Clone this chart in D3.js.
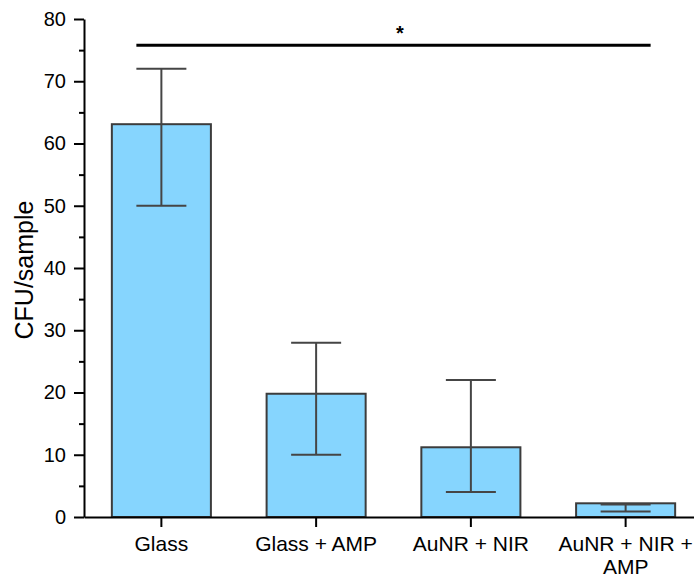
<!DOCTYPE html>
<html>
<head>
<meta charset="utf-8">
<script src="https://cdn.jsdelivr.net/npm/d3@7"></script>
<style>
body{margin:0;background:#fff;}
text{font-family:"Liberation Sans",Arial,sans-serif;}
</style>
</head>
<body>
<svg id="svg" width="694" height="577"></svg>
<script>
let categories=["Glass","Glass + AMP","AuNR + NIR","AuNR + NIR + AMP"];
let labelLines=[["Glass"],["Glass + AMP"],["AuNR + NIR"],["AuNR + NIR +","AMP"]];
let means=[63.1,19.8,11.2,2.2];
let errHigh=[72,28,22,2.0];
let errLow=[50,10,4,0.9];
let yTicks=[0,10,20,30,40,50,60,70,80];
let yMinor=[5,15,25,35,45,55,65,75];
let sigValue=75.8;
let sigText="*";

const svg=d3.select("#svg");
const plotLeft=84, plotRight=703, plotTop=19, plotBottom=517;

let y=d3.scaleLinear().domain([0,80]).range([plotBottom,plotTop]);
let x=d3.scaleBand().domain(categories).range([plotLeft,plotRight]).paddingInner(0.36).paddingOuter(0.18);
let cx=function(c){return x(c)+x.bandwidth()/2;};
const capW=50;

// bars
svg.selectAll("rect.bar").data(categories).enter().append("rect")
    .attr("class","bar")
    .attr("x",d=>x(d)).attr("width",x.bandwidth())
    .attr("y",(d,i)=>y(means[i])).attr("height",(d,i)=>y(0)-y(means[i]))
    .attr("fill","#86D5FE").attr("stroke","#3c3c3c").attr("stroke-width",2);

// error bars
const eb=svg.append("g").attr("stroke","#454545").attr("stroke-width",2).attr("fill","none");
categories.forEach(function(c,i){
    eb.append("line").attr("x1",cx(c)).attr("x2",cx(c)).attr("y1",y(errLow[i])).attr("y2",y(errHigh[i]));
    eb.append("line").attr("x1",cx(c)-capW/2).attr("x2",cx(c)+capW/2).attr("y1",y(errHigh[i])).attr("y2",y(errHigh[i]));
    eb.append("line").attr("x1",cx(c)-capW/2).attr("x2",cx(c)+capW/2).attr("y1",y(errLow[i])).attr("y2",y(errLow[i]));
});

// y axis
let yAxis=d3.axisLeft(y).tickValues(yTicks).tickSize(10).tickSizeOuter(0).tickPadding(8);
let gy=svg.append("g").attr("transform","translate("+plotLeft+",0)").call(yAxis);
gy.selectAll("text").style("font-size","20px").attr("fill","#000");
gy.selectAll("line").attr("stroke","#000").attr("stroke-width",2);
gy.select(".domain").attr("stroke","#000").attr("stroke-width",2);
svg.append("g").attr("transform","translate("+plotLeft+",0)")
    .call(d3.axisLeft(y).tickValues(yMinor).tickSize(5).tickFormat(""))
    .call(g=>g.select(".domain").remove())
    .selectAll("line").attr("stroke","#000").attr("stroke-width",2);

// x axis
let xAxis=d3.axisBottom(x).tickSize(10).tickSizeOuter(0).tickPadding(10).tickFormat("");
let gx=svg.append("g").attr("transform","translate(0,"+plotBottom+")").call(xAxis);
gx.selectAll("line").attr("stroke","#000").attr("stroke-width",2);
gx.select(".domain").attr("stroke","#000").attr("stroke-width",2);
gx.selectAll(".tick").each(function(d,i){
    let t=d3.select(this).select("text").attr("fill","#000").style("font-size","21px").attr("y",19).attr("dy",null);
    labelLines[i].forEach(function(l,k){
        t.append("tspan").attr("x",0).attr("dy",k==0?"0.71em":"1.08em").text(l);
    });
});

// y label
svg.append("text").attr("transform","translate(33,"+((plotTop+plotBottom)/2+2)+") rotate(-90)")
    .attr("text-anchor","middle").style("font-size","25px").attr("fill","#000").text("CFU/sample");

// significance
let x1=cx(categories[0])-capW/2, x2=cx(categories[3])+capW/2;
svg.append("line").attr("x1",x1).attr("x2",x2).attr("y1",y(sigValue)).attr("y2",y(sigValue))
    .attr("stroke","#000").attr("stroke-width",3);
svg.append("text").attr("x",400).attr("y",40).attr("text-anchor","middle")
    .style("font-size","20px").style("font-weight","bold").attr("fill","#000").text(sigText);
</script>
</body>
</html>
